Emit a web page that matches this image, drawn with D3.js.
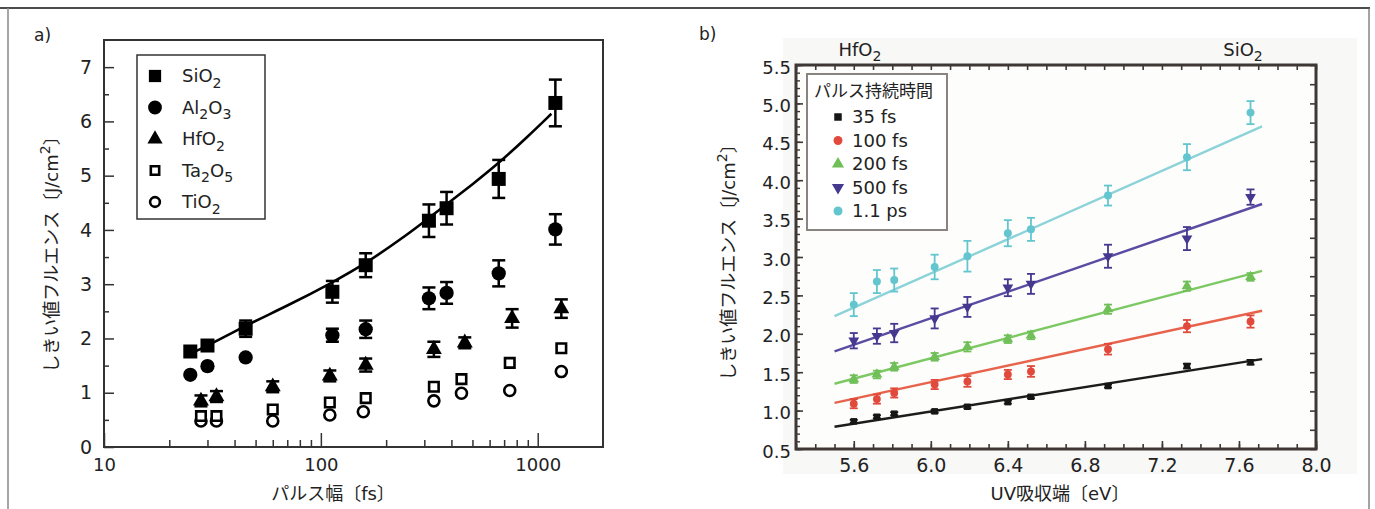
<!DOCTYPE html>
<html><head><meta charset="utf-8">
<script src="https://cdn.jsdelivr.net/npm/d3@7"></script>
<style>
body{margin:0;background:#fff;}
svg text{font-family:"DejaVu Sans","Noto Sans CJK JP",sans-serif;fill:#222;}
</style></head><body>
<svg id="fig" width="1375" height="509"></svg>
<script>
// ---------- panel a) damage threshold vs pulse width ----------
const materialNames = ["SiO2", "Al2O3", "HfO2", "Ta2O5", "TiO2"];
const pulseSiO2 = [25, 30, 45, 113, 161, 315, 380, 661, 1206];
const fluenceSiO2 = [1.76, 1.87, 2.18, 2.86, 3.35, 4.17, 4.40, 4.94, 6.34];
const errSiO2 = [0, 0, 0.15, 0.2, 0.22, 0.3, 0.3, 0.35, 0.43];
const pulseAl2O3 = [25, 30, 45, 113, 161, 315, 380, 661, 1206];
const fluenceAl2O3 = [1.33, 1.49, 1.65, 2.06, 2.17, 2.74, 2.84, 3.20, 4.01];
const errAl2O3 = [0, 0, 0, 0.12, 0.16, 0.2, 0.2, 0.24, 0.28];
const pulseHfO2 = [28, 33, 60, 110, 161, 332, 461, 762, 1285];
const fluenceHfO2 = [0.85, 0.93, 1.11, 1.31, 1.51, 1.80, 1.92, 2.37, 2.55];
const errHfO2 = [0.1, 0.1, 0.1, 0.1, 0.12, 0.14, 0.1, 0.17, 0.17];
const pulseTa2O5 = [28, 33, 60, 110, 161, 332, 445, 743, 1285];
const fluenceTa2O5 = [0.57, 0.57, 0.69, 0.82, 0.90, 1.11, 1.25, 1.55, 1.82];
const pulseTiO2 = [28, 33, 60, 110, 157, 332, 445, 743, 1285];
const fluenceTiO2 = [0.48, 0.48, 0.48, 0.59, 0.65, 0.85, 0.99, 1.04, 1.39];
// fitted curve through the SiO2 thresholds
const fitPulse = [25, 30, 45, 70, 113, 161, 250, 315, 380, 500, 661, 900, 1156];
const fitFluence = [1.72, 1.86, 2.24, 2.60, 3.03, 3.38, 3.91, 4.22, 4.47, 4.84, 5.23, 5.72, 6.14];
const pulseTicks = [10, 100, 1000];
const pulseMinor = [20, 30, 40, 50, 60, 70, 80, 90, 200, 300, 400, 500, 600, 700, 800, 900];
const fluenceTicksA = [0, 1, 2, 3, 4, 5, 6, 7];
const fluenceMinorA = [0.5, 1.5, 2.5, 3.5, 4.5, 5.5, 6.5];

// ---------- panel b) damage threshold vs UV absorption edge ----------
const edgeLabels = ["HfO2", "SiO2"];
const durationNames = ["35 fs", "100 fs", "200 fs", "500 fs", "1.1 ps"];
const absorptionEdge = [5.60, 5.72, 5.81, 6.02, 6.19, 6.40, 6.52, 6.92, 7.33, 7.66];
const fluence35fs = [0.86, 0.92, 0.96, 0.99, 1.05, 1.11, 1.18, 1.32, 1.58, 1.63];
const fluence100fs = [1.09, 1.15, 1.23, 1.34, 1.38, 1.47, 1.51, 1.80, 2.10, 2.16];
const fluence200fs = [1.41, 1.47, 1.57, 1.70, 1.83, 1.93, 1.98, 2.32, 2.62, 2.74];
const fluence500fs = [1.91, 1.97, 2.01, 2.20, 2.35, 2.60, 2.65, 3.01, 3.24, 3.78];
const fluence1100fs = [2.38, 2.68, 2.70, 2.87, 3.01, 3.31, 3.36, 3.80, 4.30, 4.88];
const err35fs = [0.02, 0.02, 0.02, 0.02, 0.02, 0.02, 0.02, 0.02, 0.03, 0.03];
const err100fs = [0.06, 0.06, 0.06, 0.06, 0.07, 0.06, 0.07, 0.07, 0.08, 0.08];
const err200fs = [0.05, 0.05, 0.05, 0.05, 0.06, 0.05, 0.05, 0.06, 0.06, 0.05];
const err500fs = [0.1, 0.1, 0.12, 0.13, 0.13, 0.11, 0.13, 0.15, 0.15, 0.1];
const err1100fs = [0.15, 0.15, 0.15, 0.16, 0.2, 0.17, 0.15, 0.13, 0.17, 0.15];
// linear fits: fluence at the start and end of each fit line
const fitEdgeRange = [5.5, 7.72];
const fitStart = [0.79, 1.10, 1.35, 1.77, 2.23];
const fitEnd = [1.67, 2.30, 2.82, 3.69, 4.70];
const edgeTicks = [5.6, 6.0, 6.4, 6.8, 7.2, 7.6, 8.0];
const fluenceTicksB = [0.5, 1.0, 1.5, 2.0, 2.5, 3.0, 3.5, 4.0, 4.5, 5.0, 5.5];

const svg = d3.select("#fig");

// chemical formula / unit text with sub- or superscript digits
function richText(sel, str, mode) {
  const parts = str.match(/[^0-9]+|[0-9]+/g);
  let shift = 0;
  const off = mode === "sup" ? -0.45 : 0.3;
  parts.forEach(p => {
    const isNum = /^[0-9]+$/.test(p) && (mode === "sub" || (mode === "sup" && p === "2"));
    const t = sel.append("tspan").text(p);
    if (isNum) {
      t.attr("font-size", "0.78em").attr("dy", (off - shift) / 0.78 + "em");
      shift = off;
    } else if (shift !== 0) {
      t.attr("dy", (-shift) + "em");
      shift = 0;
    }
  });
  return sel;
}

// outer frame
svg.append("line").attr("x1", 0).attr("x2", 1370).attr("y1", 8).attr("y2", 8)
  .attr("stroke", "#111").attr("stroke-width", 1.5);
svg.append("line").attr("x1", 8).attr("x2", 8).attr("y1", 8).attr("y2", 509)
  .attr("stroke", "#888").attr("stroke-width", 1.5);
svg.append("line").attr("x1", 1369).attr("x2", 1369).attr("y1", 8).attr("y2", 509)
  .attr("stroke", "#666").attr("stroke-width", 1.2);

// ================= panel a =================
const xA = d3.scaleLog().domain([10, 2000]).range([104, 603]);
const yA = d3.scaleLinear().domain([0, 7.5]).range([447, 40]);
const gA = svg.append("g");

svg.append("text").attr("x", 34).attr("y", 41).attr("font-size", 17).text("a)");

function styleAxis(g, color, width) {
  g.select(".domain").remove();
  g.selectAll(".tick line").attr("stroke", color).attr("stroke-width", width);
}

const axXA = gA.append("g").attr("transform", "translate(0,447)")
  .call(d3.axisBottom(xA).tickValues(pulseTicks).tickFormat(d3.format("d")).tickSize(-14).tickPadding(11));
styleAxis(axXA, "#333", 1.5);
axXA.selectAll("text").attr("font-size", 18).attr("fill", "#333");
const axXAm = gA.append("g").attr("transform", "translate(0,447)")
  .call(d3.axisBottom(xA).tickValues(pulseMinor).tickFormat("").tickSize(-7));
styleAxis(axXAm, "#333", 1.5);

const axYA = gA.append("g").attr("transform", "translate(104,0)")
  .call(d3.axisLeft(yA).tickValues(fluenceTicksA).tickSize(-10).tickPadding(12));
styleAxis(axYA, "#333", 1.5);
axYA.selectAll("text").attr("font-size", 19).attr("fill", "#333");
const axYAm = gA.append("g").attr("transform", "translate(104,0)")
  .call(d3.axisLeft(yA).tickValues(fluenceMinorA).tickFormat("").tickSize(-5));
styleAxis(axYAm, "#333", 1.5);

gA.append("rect").attr("x", 104).attr("y", 40).attr("width", 499).attr("height", 407)
  .attr("fill", "none").attr("stroke", "#333").attr("stroke-width", 2);

// axis titles
gA.append("text").attr("x", 333).attr("y", 500).attr("text-anchor", "middle")
  .attr("font-size", 18).attr("fill", "#333").text("パルス幅〔fs〕");
richText(gA.append("text").attr("transform", "translate(58,250) rotate(-90)")
  .attr("text-anchor", "middle").attr("font-size", 18).attr("fill", "#333"),
  "しきい値フルエンス〔J/cm2〕", "sup");

// fitted curve
gA.append("path")
  .datum(fitPulse.map((p, i) => [p, fitFluence[i]]))
  .attr("d", d3.line().x(d => xA(d[0])).y(d => yA(d[1])).curve(d3.curveBasis))
  .attr("fill", "none").attr("stroke", "#000").attr("stroke-width", 2.6);

// error bars
function errBars(g, xs, ys, es, xScale, yScale, cap, color, width) {
  xs.forEach((x, i) => {
    if (!es[i]) return;
    const cx = xScale(x), y1 = yScale(ys[i] - es[i]), y2 = yScale(ys[i] + es[i]);
    g.append("line").attr("x1", cx).attr("x2", cx).attr("y1", y1).attr("y2", y2)
      .attr("stroke", color).attr("stroke-width", width);
    [y1, y2].forEach(yy => g.append("line").attr("x1", cx - cap / 2).attr("x2", cx + cap / 2)
      .attr("y1", yy).attr("y2", yy).attr("stroke", color).attr("stroke-width", width));
  });
}
errBars(gA, pulseSiO2, fluenceSiO2, errSiO2, xA, yA, 13, "#000", 2.5);
errBars(gA, pulseAl2O3, fluenceAl2O3, errAl2O3, xA, yA, 13, "#000", 2.5);
errBars(gA, pulseHfO2, fluenceHfO2, errHfO2, xA, yA, 13, "#000", 2.5);

const symA = [
  { type: d3.symbolSquare, size: 196, fill: "#000", stroke: "none", sw: 0 },
  { type: d3.symbolCircle, size: 160, fill: "#000", stroke: "none", sw: 0 },
  { type: d3.symbolTriangle, size: 110, fill: "#000", stroke: "none", sw: 0 },
  { type: d3.symbolSquare, size: 90, fill: "#fff", stroke: "#000", sw: 2.6 },
  { type: d3.symbolCircle, size: 95, fill: "#fff", stroke: "#000", sw: 2.6 }
];
const seriesA = [
  [pulseSiO2, fluenceSiO2], [pulseAl2O3, fluenceAl2O3], [pulseHfO2, fluenceHfO2],
  [pulseTa2O5, fluenceTa2O5], [pulseTiO2, fluenceTiO2]
];
// draw open markers first, then the filled ones on top
[4, 3, 2, 1, 0].forEach(k => {
  const s = symA[k];
  const [xs, ys] = seriesA[k];
  gA.append("g").selectAll("path").data(xs.map((x, i) => [x, ys[i]])).join("path")
    .attr("transform", d => `translate(${xA(d[0])},${yA(d[1])})`)
    .attr("d", d3.symbol().type(s.type).size(s.size))
    .attr("fill", s.fill).attr("stroke", s.stroke).attr("stroke-width", s.sw);
});

// legend
const legA = gA.append("g");
legA.append("rect").attr("x", 137).attr("y", 55).attr("width", 128).attr("height", 164)
  .attr("fill", "#fff").attr("stroke", "#333").attr("stroke-width", 1.5);
const legSize = [150, 150, 100, 70, 75];
materialNames.forEach((name, i) => {
  const yy = 76 + i * 31.5;
  const s = symA[i];
  legA.append("path").attr("transform", `translate(155,${yy})`)
    .attr("d", d3.symbol().type(s.type).size(legSize[i]))
    .attr("fill", s.fill).attr("stroke", s.stroke).attr("stroke-width", s.sw);
  richText(legA.append("text").attr("x", 182).attr("y", yy).attr("dy", "0.36em")
    .attr("font-size", 18).attr("fill", "#333"), name, "sub");
});

// ================= panel b =================
const xB = d3.scaleLinear().domain([5.3, 8.0]).range([796, 1316]);
const yB = d3.scaleLinear().domain([0.5, 5.5]).range([449, 65]);
const gB = svg.append("g");

svg.append("text").attr("x", 699).attr("y", 40).attr("font-size", 17).text("b)");

const defs = svg.append("defs");
defs.append("filter").attr("id", "soft").attr("x", "-5%").attr("y", "-5%")
  .attr("width", "110%").attr("height", "110%")
  .append("feGaussianBlur").attr("stdDeviation", 0.75);

// scanned backdrop of the panel
gB.append("rect").attr("x", 783).attr("y", 38).attr("width", 574).attr("height", 436)
  .attr("fill", "#f8f8f7");
gB.append("rect").attr("x", 796).attr("y", 65).attr("width", 520).attr("height", 384)
  .attr("fill", "#fdfdfc");

const frameColor = "#3d3834";
const tenths = d3.range(53, 81).map(v => v / 10);
const yTenths = d3.range(5, 56).map(v => v / 10);
const yQuarters = d3.range(2, 23).map(v => v / 4);

const axXB = gB.append("g").attr("transform", "translate(0,449)")
  .call(d3.axisBottom(xB).tickValues(edgeTicks).tickFormat(d3.format(".1f")).tickSize(-8).tickPadding(10));
styleAxis(axXB, frameColor, 1.6);
axXB.selectAll("text").attr("font-size", 19).attr("fill", "#333");
const axXBm = gB.append("g").attr("transform", "translate(0,449)")
  .call(d3.axisBottom(xB).tickValues(tenths).tickFormat("").tickSize(-5));
styleAxis(axXBm, frameColor, 1.6);
const axXBt = gB.append("g").attr("transform", "translate(0,65)")
  .call(d3.axisTop(xB).tickValues(tenths).tickFormat("").tickSize(-5));
styleAxis(axXBt, frameColor, 1.6);

const axYB = gB.append("g").attr("transform", "translate(796,0)")
  .call(d3.axisLeft(yB).tickValues(fluenceTicksB).tickFormat(d3.format(".1f")).tickSize(-7).tickPadding(5));
styleAxis(axYB, frameColor, 1.6);
axYB.selectAll("text").attr("font-size", 18).attr("fill", "#333").attr("dy", "0.45em");
const axYBm = gB.append("g").attr("transform", "translate(796,0)")
  .call(d3.axisLeft(yB).tickValues(yTenths).tickFormat("").tickSize(-4));
styleAxis(axYBm, frameColor, 1.4);
const axYBr = gB.append("g").attr("transform", "translate(1316,0)")
  .call(d3.axisRight(yB).tickValues(yQuarters).tickFormat("").tickSize(-6));
styleAxis(axYBr, frameColor, 1.6);

gB.append("rect").attr("x", 796).attr("y", 65).attr("width", 520).attr("height", 384)
  .attr("fill", "none").attr("stroke", frameColor).attr("stroke-width", 3)
  .attr("filter", "url(#soft)");

// axis titles and material labels
gB.append("text").attr("x", 1060).attr("y", 500).attr("text-anchor", "middle")
  .attr("font-size", 18).attr("fill", "#333").text("UV吸収端〔eV〕");
richText(gB.append("text").attr("transform", "translate(735,258) rotate(-90)")
  .attr("text-anchor", "middle").attr("font-size", 18).attr("fill", "#333"),
  "しきい値フルエンス〔J/cm2〕", "sup");
[[860, edgeLabels[0]], [1243, edgeLabels[1]]].forEach(([x, lab]) => {
  richText(gB.append("text").attr("x", x).attr("y", 56).attr("text-anchor", "middle")
    .attr("font-size", 18).attr("fill", "#333"), lab, "sub");
});

const seriesB = [fluence35fs, fluence100fs, fluence200fs, fluence500fs, fluence1100fs];
const errB = [err35fs, err100fs, err200fs, err500fs, err1100fs];
const markColors = ["#141414", "#e04a3a", "#6fbf58", "#45388f", "#63c6cf"];
const lineColors = ["#1e1e1e", "#e8634c", "#7cc964", "#5b4ba3", "#8bd3d9"];
const symB = [
  { type: d3.symbolSquare, size: 42 },
  { type: d3.symbolCircle, size: 48 },
  { type: d3.symbolTriangle, size: 50 },
  { type: d3.symbolTriangle, size: 50, rot: 180 },
  { type: d3.symbolCircle, size: 50 }
];

const dataB = gB.append("g").attr("filter", "url(#soft)");
seriesB.forEach((ys, k) => {
  dataB.append("line")
    .attr("x1", xB(fitEdgeRange[0])).attr("y1", yB(fitStart[k]))
    .attr("x2", xB(fitEdgeRange[1])).attr("y2", yB(fitEnd[k]))
    .attr("stroke", lineColors[k]).attr("stroke-width", 2.4);
});
seriesB.forEach((ys, k) => {
  errBars(dataB, absorptionEdge, ys, errB[k], xB, yB, 8, markColors[k], 1.8);
  dataB.append("g").selectAll("path").data(absorptionEdge.map((x, i) => [x, ys[i]])).join("path")
    .attr("transform", d => `translate(${xB(d[0])},${yB(d[1])}) rotate(${symB[k].rot || 0})`)
    .attr("d", d3.symbol().type(symB[k].type).size(symB[k].size))
    .attr("fill", markColors[k]);
});

// legend
const legB = gB.append("g");
legB.append("rect").attr("x", 807).attr("y", 74).attr("width", 140).attr("height", 156)
  .attr("fill", "#fff").attr("stroke", "#8a8480").attr("stroke-width", 2).attr("filter", "url(#soft)");
legB.append("text").attr("x", 814).attr("y", 97).attr("font-size", 17).attr("fill", "#222")
  .text("パルス持続時間");
durationNames.forEach((name, i) => {
  const yy = 117 + i * 23.5;
  legB.append("path").attr("transform", `translate(838,${yy}) rotate(${symB[i].rot || 0})`)
    .attr("d", d3.symbol().type(symB[i].type).size(symB[i].size + 14))
    .attr("fill", markColors[i]).attr("filter", "url(#soft)");
  legB.append("text").attr("x", 852).attr("y", yy).attr("dy", "0.36em")
    .attr("font-size", 18).attr("fill", "#222").text(name);
});
</script>
</body></html>
